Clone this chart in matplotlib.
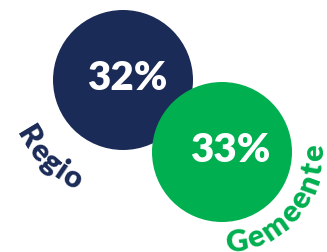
import numpy as np
import matplotlib.pyplot as plt
from matplotlib.patches import Circle
from matplotlib.font_manager import FontProperties

# data
labels = ['Regio', 'Gemeente']
values = [32, 33]
colors = ['#1b2b57', '#00af50']

# layout (pixels, y up)
centers = [(123, 172), (222, 100)]
value_offsets = [(4, 2), (8, 2)]
radius = 70
# arc center, baseline radius, first-char angle, font size, letter spacing
label_arcs = [((123, 172), 119, -149, 22, 1.5), ((222, 100), 101, -81, 22, 2.5)]
font = 'Lato'
weight = 'heavy'

fig = plt.figure(figsize=(3.27, 2.52), dpi=100)
ax = fig.add_axes([0, 0, 1, 1])
ax.set_xlim(0, 327)
ax.set_ylim(0, 252)
ax.set_aspect('equal')
ax.axis('off')
renderer = fig.canvas.get_renderer()


def text_width(s, fp):
    if not s:
        return 0.0
    return renderer.get_text_width_height_descent(s, fp, ismath=False)[0]


def arc_text(text, center, r, start_deg, size, color, spacing=0.0):
    fp = FontProperties(family=font, weight=weight, size=size)
    first = text_width(text[0], fp) / 2
    for i, ch in enumerate(text):
        s = text_width(text[:i], fp) + text_width(ch, fp) / 2 + spacing * i - first
        theta = np.radians(start_deg) + s / r
        x = center[0] + r * np.cos(theta)
        y = center[1] + r * np.sin(theta)
        ax.text(x, y, ch, fontproperties=fp, color=color, ha='center', va='baseline',
                rotation=np.degrees(theta) + 90, rotation_mode='anchor')


for (cx, cy), (dx, dy), val, col in zip(centers, value_offsets, values, colors):
    ax.add_patch(Circle((cx, cy), radius, color=col, lw=0))
    ax.text(cx + dx, cy + dy, f'{val}%', color='white', fontsize=29, fontweight=weight,
            family=font, ha='center', va='center')

for lab, col, (c, r, a, size, sp) in zip(labels, colors, label_arcs):
    arc_text(lab, c, r, a, size, col, sp)

fig.savefig('out.png', dpi=100)
